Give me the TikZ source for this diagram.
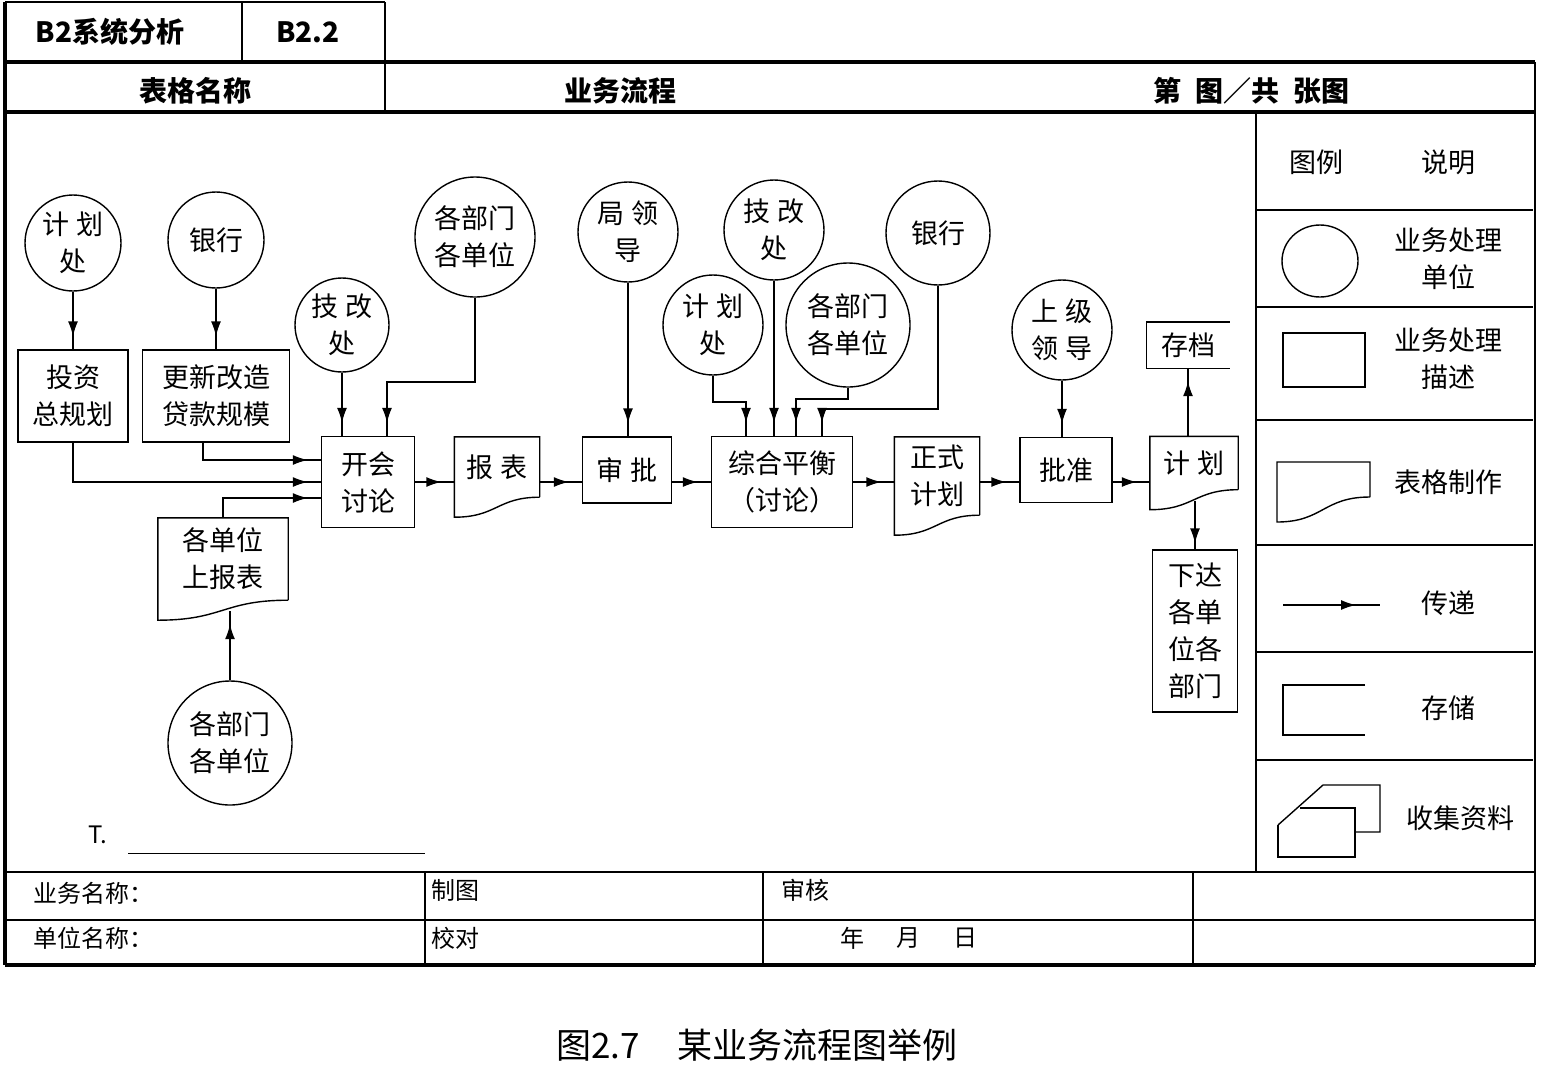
\documentclass[tikz,border=0pt]{standalone}
\usepackage{fontspec}
\setmainfont{Noto Sans CJK SC}
\usetikzlibrary{arrows.meta,decorations.markings}

\newcommand{\boxfont}{\fontsize{27}{37}\selectfont}
\newcommand{\headfont}{\fontsize{28}{32}\selectfont\bfseries}
\newcommand{\tablefont}{\fontsize{24}{28}\selectfont}

% wavy bottom of a form node
\newcommand{\docframe}[1]{%
  \draw[line width=1.4pt] (#1.south east) -- (#1.north east) -- (#1.north west)
    -- ([yshift=-20pt]#1.south west) .. controls ([yshift=-20pt]#1.south) and (#1.south) .. (#1.south east);}

\tikzset{
  unit/.style={circle,draw,line width=1.4pt,inner sep=0pt,align=center,font=\boxfont},
  proc/.style={rectangle,draw,line width=1.4pt,inner sep=0pt,align=center,font=\boxfont},
  form/.style={rectangle,inner sep=0pt,align=center,font=\boxfont},
  flow/.style={line width=1.4pt,postaction={decorate},
    decoration={markings,mark=at position -#1 with {\arrow{Latex[length=15pt,width=10pt]}}}},
  flow/.default=13pt,
  frame/.style={line width=3.5pt},
  rule/.style={line width=1.6pt},
  label/.style={inner sep=0pt,font=\tablefont}
}

\begin{document}
\begin{tikzpicture}[x=1pt,y=-1pt]
    \useasboundingbox (0,0) rectangle (1556,1080);

    % Header
    \draw[rule] (5,2) -- (385,2);
    \draw[rule] (242,2) -- (242,62);
    \draw[rule] (385,2) -- (385,112);
    \draw[frame] (5,62) -- (1535,62);
    \draw[frame] (5,112) -- (1535,112);
    \node[inner sep=0pt,font=\headfont] (sysname) at (110,32) {B2系统分析};
    \node[inner sep=0pt,font=\headfont] (sysno) at (308,32) {B2.2};
    \node[inner sep=0pt,font=\headfont] (formname) at (195,91) {表格名称};
    \node[inner sep=0pt,font=\headfont] (formtitle) at (620,91) {业务流程};
    \node[inner sep=0pt,font=\headfont] (sheetno) at (1251,91) {第\hspace{14pt}图／共\hspace{14pt}张图};

    % Frame
    \draw[frame] (5,2) -- (5,965);
    \draw[rule] (1535,62) -- (1535,965);
    \draw[frame] (5,965) -- (1535,965);

    % Legend
    \draw[rule] (1256,112) -- (1256,872);
    \foreach \y in {210,307,420,545,652,760}
        \draw[rule] (1256,\y) -- (1533,\y);
    \node[label,font=\boxfont] (lgkey) at (1316,162) {图例};
    \node[label,font=\boxfont] (lgtext) at (1448,162) {说明};
    \draw[line width=1.4pt] (1320,261) ellipse (38pt and 36pt);
    \node[label,font=\boxfont,align=center] (lgunit) at (1448,259) {业务处理\\单位};
    \draw[line width=1.4pt] (1283,333) rectangle (1365,387);
    \node[label,font=\boxfont,align=center] (lgproc) at (1448,359) {业务处理\\描述};
    \draw[line width=1.4pt] (1370,497) -- (1370,462) -- (1277,462) -- (1277,522)
        .. controls (1323,522) and (1323,497) .. (1370,497);
    \node[label,font=\boxfont] (lgform) at (1448,482) {表格制作};
    \coordinate (lgfrom) at (1283,605);
    \coordinate (lgto) at (1380,605);
    \draw[flow=24pt] (lgfrom) -- (lgto);
    \node[label,font=\boxfont] (lgpass) at (1448,603) {传递};
    \draw[line width=1.4pt] (1365,685) -- (1283,685) -- (1283,735) -- (1365,735);
    \node[label,font=\boxfont] (lgstore) at (1448,708) {存储};
    \draw[line width=1.4pt] (1278,825) -- (1323,785) -- (1380,785) -- (1380,832) -- (1355,832);
    \draw[line width=1.4pt] (1300,808) -- (1355,808) -- (1355,857) -- (1278,857) -- (1278,825);
    \node[label,font=\boxfont] (lgcollect) at (1460,818) {收集资料};

    % Bottom table
    \draw[rule] (5,872) -- (1535,872);
    \draw[rule] (5,920) -- (1535,920);
    \draw[rule] (425,872) -- (425,965);
    \draw[rule] (763,872) -- (763,965);
    \draw[rule] (1193,872) -- (1193,965);
    \node[label,anchor=west] (bizname) at (33,893) {业务名称：};
    \node[label,anchor=west] (drawn) at (431,890) {制图};
    \node[label,anchor=west] (checked) at (781,890) {审核};
    \node[label,anchor=west] (deptname) at (33,938) {单位名称：};
    \node[label,anchor=west] (verified) at (431,938) {校对};
    \node[label] (year) at (852,938) {年};
    \node[label] (month) at (908,938) {月};
    \node[label] (day) at (965,938) {日};
    \node[label] (tmark) at (98,835) {T.};
    \draw[line width=1pt] (128,853) -- (425,853);

    % Caption
    \node[inner sep=0pt,font=\fontsize{35}{40}\selectfont] (caption) at (757,1045) {图2.7\hspace{38pt}某业务流程图举例};

    % Units
    \node[unit,minimum size=96pt] (jihuaA) at (73,243) {计 划\\处};
    \node[unit,minimum size=96pt] (yinhangA) at (216,240) {银行};
    \node[unit,minimum size=94pt] (jigaiA) at (342,325) {技 改\\处};
    \node[unit,minimum size=120pt] (bumenA) at (475,237) {各部门\\各单位};
    \node[unit,minimum size=100pt] (julingA) at (628,232) {局 领\\导};
    \node[unit,minimum size=100pt] (jigaiB) at (774,230) {技 改\\处};
    \node[unit,minimum size=100pt] (jihuaB) at (713,325) {计 划\\处};
    \node[unit,minimum size=124pt] (bumenB) at (848,325) {各部门\\各单位};
    \node[unit,minimum size=104pt] (yinhangB) at (938,233) {银行};
    \node[unit,minimum size=100pt] (shangji) at (1062,330) {上 级\\领 导};
    \node[unit,minimum size=124pt] (bumenC) at (230,743) {各部门\\各单位};

    % Processes
    \node[proc,minimum width=110pt,minimum height=92pt] (touzi) at (73,396) {投资\\总规划};
    \node[proc,minimum width=147pt,minimum height=92pt] (gengxin) at (216,396) {更新改造\\贷款规模};
    \node[proc,minimum width=93pt,minimum height=91pt] (kaihui) at (368,482) {开会\\讨论};
    \node[proc,minimum width=89pt,minimum height=66pt] (shenpi) at (627,470) {审 批};
    \node[proc,minimum width=141pt,minimum height=91pt] (zonghe) at (782,482) {综合平衡\\（讨论）};
    \node[proc,minimum width=92pt,minimum height=65pt] (pizhun) at (1066,470) {批准};
    \node[proc,minimum width=85pt,minimum height=162pt] (xiada) at (1195,631) {下达\\各单\\位各\\部门};
    \node[form,minimum width=83pt,minimum height=46pt] (cundang) at (1188,345) {存档};
    \draw[line width=1.4pt] (cundang.north east) -- (cundang.north west) -- (cundang.south west) -- (cundang.south east);

    % Forms
    \node[form,minimum width=85pt,minimum height=60pt] (baobiao) at (497,467) {报 表};
    \node[form,minimum width=85pt,minimum height=78pt] (zhengshi) at (937,476) {正式\\计划};
    \node[form,minimum width=88pt,minimum height=53pt] (jihuaC) at (1194,463) {计 划};
    \node[form,minimum width=130pt,minimum height=82pt] (shangbao) at (223,559) {各单位\\上报表};
    \docframe{baobiao}
    \docframe{zhengshi}
    \docframe{jihuaC}
    \docframe{shangbao}

    % Flows
    \coordinate (axis) at (0,482);
    \draw[flow] (jihuaA) -- (touzi);
    \draw[flow] (yinhangA) -- (gengxin);
    \draw[flow] (jigaiA) -- (jigaiA |- kaihui.north);
    \draw[flow] (bumenA.south) |- ([xshift=19pt,yshift=54pt]kaihui.north) -- ([xshift=19pt]kaihui.north);
    \draw[flow] ([xshift=-13pt]gengxin.south) |- ([yshift=22pt]kaihui.west);
    \draw[flow] (touzi.south) |- (kaihui.west);
    \draw[flow] (shangbao.north) |- ([yshift=-16pt]kaihui.west);
    \draw[flow] (bumenC.north) -- ([xshift=7pt,yshift=-11pt]shangbao.south);
    \draw[flow] (kaihui.east |- axis) -- (baobiao.west |- axis);
    \draw[flow] (baobiao.east |- axis) -- (shenpi.west |- axis);
    \draw[flow] (julingA) -- (julingA |- shenpi.north);
    \draw[flow] (shenpi.east |- axis) -- (zonghe.west |- axis);
    \draw[flow] (jihuaB.south) |- ([xshift=-36pt,yshift=34pt]zonghe.north) -- ([xshift=-36pt]zonghe.north);
    \draw[flow] (jigaiB) -- (jigaiB |- zonghe.north);
    \draw[flow] (bumenB.south) |- ([xshift=14pt,yshift=37pt]zonghe.north) -- ([xshift=14pt]zonghe.north);
    \draw[flow] (yinhangB.south) |- ([xshift=40pt,yshift=27pt]zonghe.north) -- ([xshift=40pt]zonghe.north);
    \draw[flow] (zonghe.east |- axis) -- (zhengshi.west |- axis);
    \draw[flow] (zhengshi.east |- axis) -- (pizhun.west |- axis);
    \draw[flow] (shangji) -- (shangji |- pizhun.north);
    \draw[flow] (pizhun.east |- axis) -- (jihuaC.west |- axis);
    \draw[flow] (cundang.south |- jihuaC.north) -- (cundang.south);
    \draw[flow=6pt] ([yshift=-11pt]xiada.north |- jihuaC.south) -- (xiada.north);
\end{tikzpicture}
\end{document}
